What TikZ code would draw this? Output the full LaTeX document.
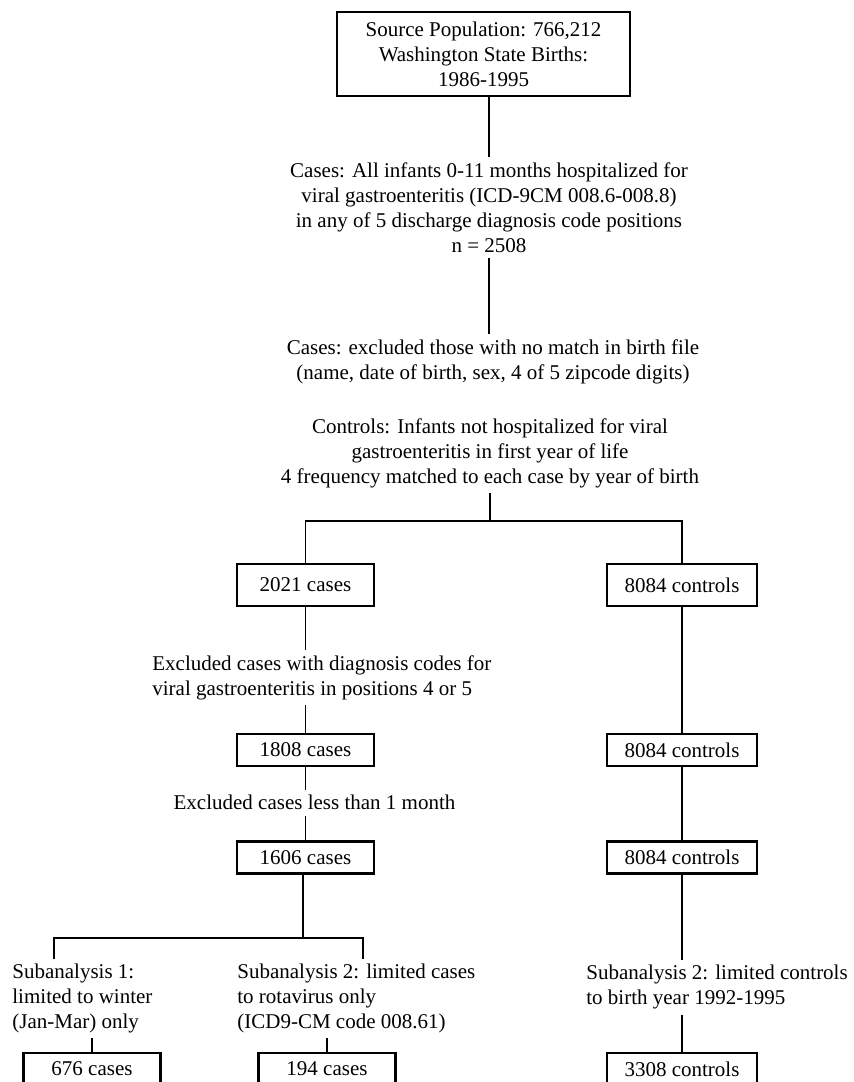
\documentclass[tikz,border=0pt]{standalone}
\usepackage{fontspec}
\setmainfont{Liberation Serif}
\usepackage[]{color}

\begin{document}
\begin{tikzpicture}[x=0.5pt,y=-0.5pt,
    txt/.style={font=\fontsize{10.5}{12.5}\selectfont},
    boxnode/.style={txt,draw,line width=1.1pt,inner sep=0pt,minimum width=68.5pt,minimum height=21pt},
    flat/.style={minimum height=16pt},
    wide/.style={minimum width=75pt},
    note/.style={txt,inner xsep=0pt,inner ysep=2.5pt},
    link/.style={line width=0.9pt}]
\useasboundingbox (0,0) rectangle (853,1082);
\clip (0,0) rectangle (853,1082);

\node[txt,draw,line width=1.1pt,align=center,inner sep=0pt,minimum width=146.5pt,minimum height=42pt] (pop) at (483.5,54) {Source Population: 766,212\\Washington State Births:\\1986-1995};
\node[note,align=center,anchor=north] (hosp) at (489,157) {Cases: All infants 0-11 months hospitalized for\\viral gastroenteritis (ICD-9CM 008.6-008.8)\\in any of 5 discharge diagnosis code positions\\n = 2508};
\node[note,align=center,anchor=north] (nomatch) at (493,334) {Cases: excluded those with no match in birth file\\(name, date of birth, sex, 4 of 5 zipcode digits)};
\node[note,align=center,anchor=north] (ctrl) at (490,413) {Controls: Infants not hospitalized for viral\\gastroenteritis in first year of life\\4 frequency matched to each case by year of birth};
\coordinate (forkA) at (490,521);

    \draw[link] (hosp.north) -- (hosp.north |- pop.south);
    \draw[link] (hosp.south) -- (hosp.south |- nomatch.north);
    \draw[link] (ctrl.south) -- (forkA);

\node[boxnode] (c2021) at (305.5,585) {2021 cases};
\node[boxnode,wide] (k1) at (682,585) {8084 controls};
    \draw[link] (forkA) -| (c2021.north);
    \draw[link] (forkA) -| (k1.north);

\node[note,align=left,anchor=north west] (codes) at (152,650) {Excluded cases with diagnosis codes for\\viral gastroenteritis in positions 4 or 5};
\node[boxnode,flat] (c1808) at (305.5,750) {1808 cases};
\node[note,anchor=north] (month) at (314.5,790) {Excluded cases less than 1 month};
\node[boxnode,flat] (c1606) at (305.5,857.5) {1606 cases};
\coordinate (forkB) at (303,938);

    \draw[link] (c2021.south) -- (c2021.south |- codes.north);
    \draw[link] (c1808.north) -- (c1808.north |- codes.south);
    \draw[link] (c1808.south) -- (c1808.south |- month.north);
    \draw[link] (c1606.north) -- (c1606.north |- month.south);
    \draw[link] (c1606.south -| forkB) -- (forkB);

\node[boxnode,wide,flat] (k2) at (682,750) {8084 controls};
\node[boxnode,wide,flat] (k3) at (682,857.5) {8084 controls};
    \draw[link] (k1.south) -- (k2.north);
    \draw[link] (k2.south) -- (k3.north);

\node[note,align=left,anchor=north west] (sub1) at (12,958.5) {Subanalysis 1:\\limited to winter\\(Jan-Mar) only};
\node[note,align=left,anchor=north west] (sub2) at (237,958.5) {Subanalysis 2: limited cases\\to rotavirus only\\(ICD9-CM code 008.61)};
\node[note,align=left,anchor=north west] (sub3) at (586,960) {Subanalysis 2: limited controls\\to birth year 1992-1995};
    \draw[link] ([xshift=21pt]sub1.north west) |- (forkB) -| ([xshift=63pt]sub2.north west);
    \draw[link] (k3.south) -- (k3.south |- sub3.north);

\node[boxnode,flat] (c676) at (92,1069) {676 cases};
\node[boxnode,flat] (c194) at (327,1069) {194 cases};
\node[boxnode,wide,flat] (k4) at (682,1069) {3308 controls};
    \draw[link] (c676.north) -- (c676.north |- sub1.south);
    \draw[link] (c194.north) -- (c194.north |- sub2.south);
    \draw[link] (k4.north) -- (k4.north |- sub3.south);
\end{tikzpicture}
\end{document}
